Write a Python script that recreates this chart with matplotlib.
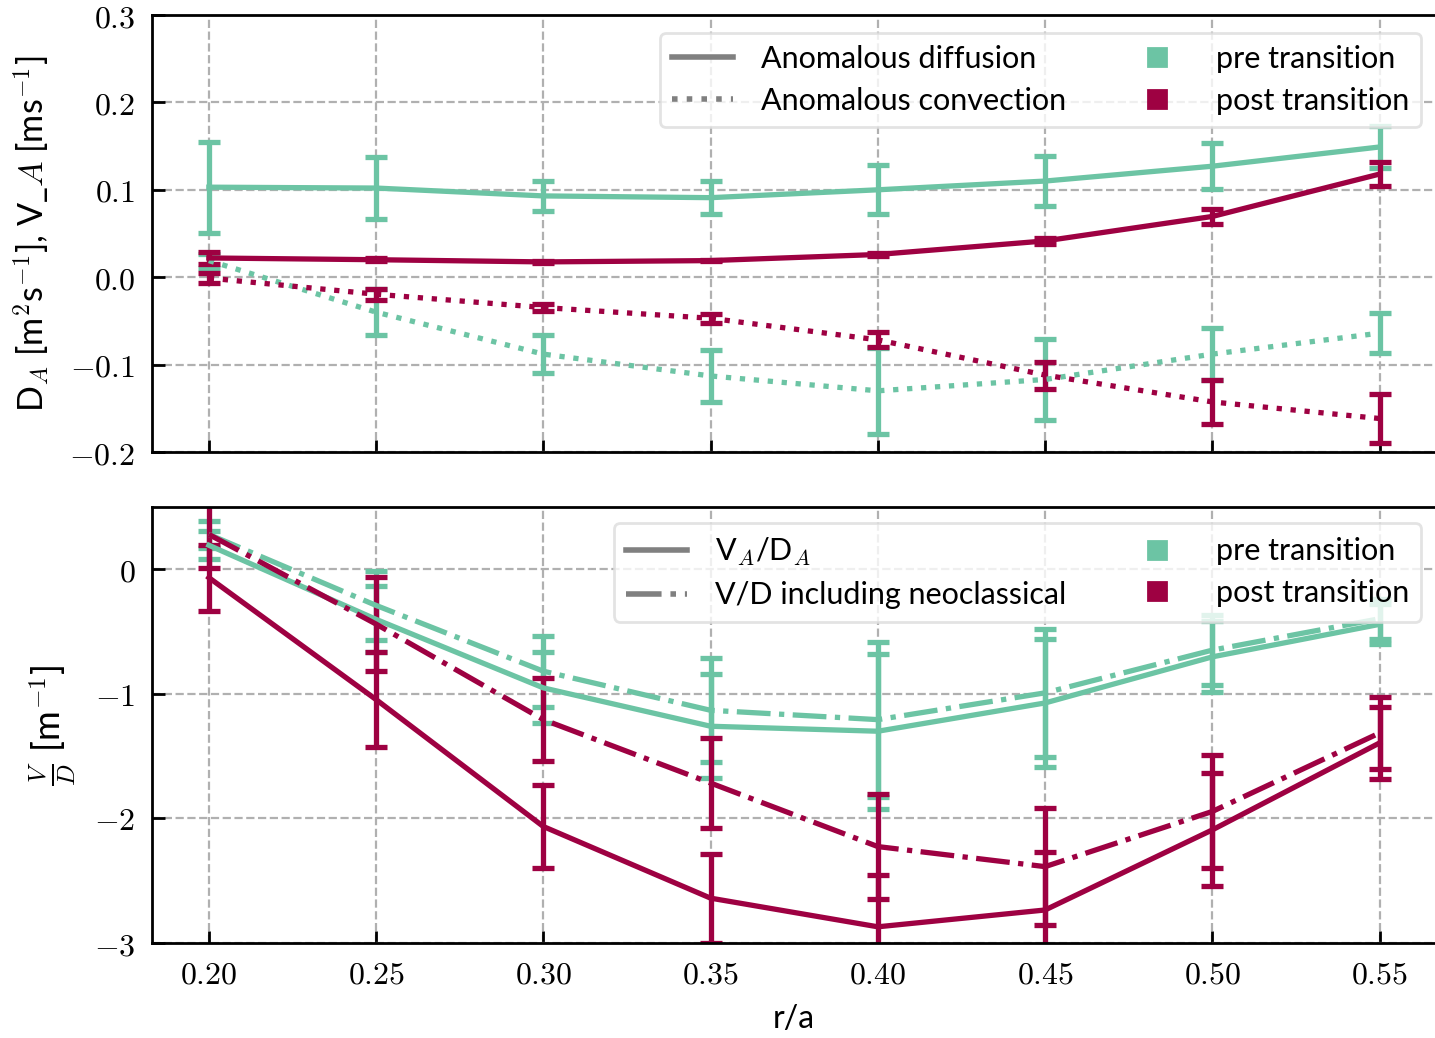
import matplotlib
matplotlib.use("Agg")
import matplotlib.pyplot as plt
from matplotlib.lines import Line2D
from matplotlib.ticker import FuncFormatter, MultipleLocator

plt.rcParams['font.family'] = ['Lato', 'DejaVu Sans']
plt.rcParams['mathtext.fontset'] = 'cm'
plt.rcParams['font.size'] = 10

# ---- data ----
r_a = [0.20, 0.25, 0.30, 0.35, 0.40, 0.45, 0.50, 0.55]

D_pre = [0.103, 0.102, 0.093, 0.091, 0.100, 0.110, 0.127, 0.149]
D_pre_err = [0.052, 0.035, 0.017, 0.019, 0.028, 0.029, 0.026, 0.024]
D_post = [0.022, 0.020, 0.0175, 0.019, 0.026, 0.0415, 0.0695, 0.118]
D_post_err = [0.007, 0.002, 0.001, 0.001, 0.002, 0.003, 0.0086, 0.0135]

V_pre = [0.019, -0.040, -0.088, -0.113, -0.130, -0.117, -0.088, -0.064]
V_pre_err = [0.008, 0.026, 0.0215, 0.030, 0.049, 0.046, 0.030, 0.023]
V_post = [-0.001, -0.0195, -0.0347, -0.047, -0.0717, -0.112, -0.1427, -0.1617]
V_post_err = [0.006, 0.0065, 0.004, 0.005, 0.0085, 0.0155, 0.025, 0.0275]

VD_pre = [0.193, -0.402, -0.952, -1.26, -1.30, -1.073, -0.703, -0.442]
VD_pre_err = [0.111, 0.265, 0.284, 0.417, 0.623, 0.516, 0.286, 0.161]
VD_post = [-0.067, -1.046, -2.065, -2.64, -2.87, -2.735, -2.092, -1.394]
VD_post_err = [0.264, 0.378, 0.335, 0.357, 0.416, 0.469, 0.453, 0.286]

VDn_pre = [0.28, -0.29, -0.818, -1.132, -1.207, -0.992, -0.649, -0.397]
VDn_pre_err = [0.107, 0.275, 0.284, 0.416, 0.623, 0.516, 0.282, 0.161]
VDn_post = [0.28, -0.44, -1.207, -1.716, -2.226, -2.387, -1.944, -1.314]
VDn_post_err = [0.268, 0.378, 0.333, 0.359, 0.42, 0.469, 0.453, 0.286]

c_pre = '#6cc4a4'
c_post = '#9e0142'

fig = plt.figure(figsize=(7.175, 5.19), dpi=200)
ax1 = fig.add_axes([152/1435, 1-452/1038, 1.001-152/1435, (452-15)/1038])
ax2 = fig.add_axes([152/1435, 1-943/1038, 1.001-152/1435, (943-507)/1038], sharex=ax1)

lw = 1.9
ekw = dict(capsize=3.8, capthick=lw, elinewidth=lw, lw=lw)

# top panel
ax1.errorbar(r_a, D_pre, yerr=D_pre_err, color=c_pre, ls='-', **ekw)
ax1.errorbar(r_a, V_pre, yerr=V_pre_err, color=c_pre, ls=':', **ekw)
ax1.errorbar(r_a, D_post, yerr=D_post_err, color=c_post, ls='-', **ekw)
ax1.errorbar(r_a, V_post, yerr=V_post_err, color=c_post, ls=':', **ekw)

# bottom panel
ax2.errorbar(r_a, VD_pre, yerr=VD_pre_err, color=c_pre, ls='-', **ekw)
ax2.errorbar(r_a, VDn_pre, yerr=VDn_pre_err, color=c_pre, ls='-.', **ekw)
ax2.errorbar(r_a, VD_post, yerr=VD_post_err, color=c_post, ls='-', **ekw)
ax2.errorbar(r_a, VDn_post, yerr=VDn_post_err, color=c_post, ls='-.', **ekw)

ax1.set_xlim(0.183, 0.567)
ax1.set_ylim(-0.2, 0.3)
ax2.set_ylim(-3, 0.5)
ax1.xaxis.set_major_locator(MultipleLocator(0.05))
ax1.yaxis.set_major_locator(MultipleLocator(0.1))
ax2.yaxis.set_major_locator(MultipleLocator(1))

fmt_x = FuncFormatter(lambda v, p: f"${v:.2f}$")
fmt_y1 = FuncFormatter(lambda v, p: f"${v:.1f}$" if abs(v) > 1e-9 else "$0.0$")
fmt_y2 = FuncFormatter(lambda v, p: f"${v:.0f}$" if abs(v) > 1e-9 else "$0$")
ax2.xaxis.set_major_formatter(fmt_x)
ax1.yaxis.set_major_formatter(fmt_y1)
ax2.yaxis.set_major_formatter(fmt_y2)
plt.setp(ax1.get_xticklabels(), visible=False)

for ax in (ax1, ax2):
    ax.grid(True, ls='--', color='#b0b0b0', lw=0.8)
    ax.set_axisbelow(True)
    ax.tick_params(direction='in', length=4.5, width=1.0, labelsize=11.5, pad=6)
    for s in ax.spines.values():
        s.set_linewidth(1.0)

ax1.set_ylabel(r"D$_A$ [m$^2$s$^{-1}$], V_$A$ [ms$^{-1}$]", fontsize=12.3)
ax2.set_ylabel(r"$\frac{V}{D}$ [m$^{-1}$]", fontsize=13)
ax2.set_xlabel("r/a", fontsize=11.5, labelpad=5)
ax1.yaxis.set_label_coords(-0.078, 0.5)
ax2.yaxis.set_label_coords(-0.058, 0.5)

grey = '#808080'
h1 = [Line2D([], [], color=grey, lw=2, ls='-'),
      Line2D([], [], color=grey, lw=2, ls=':'),
      Line2D([], [], color=c_pre, marker='s', ls='none', markersize=6.5),
      Line2D([], [], color=c_post, marker='s', ls='none', markersize=6.5)]
l1 = ["Anomalous diffusion", "Anomalous convection", "pre transition", "post transition"]
leg_kw = dict(ncol=2, loc='upper right', fontsize=11, handlelength=2.0,
              handletextpad=0.9, columnspacing=2.0, labelspacing=0.45,
              framealpha=0.8, edgecolor='#dddddd', borderaxespad=0.0)
ax1.legend(h1, l1, bbox_to_anchor=(0.988, 0.959), **leg_kw)

h2 = [Line2D([], [], color=grey, lw=2, ls='-'),
      Line2D([], [], color=grey, lw=2, ls='-.'),
      Line2D([], [], color=c_pre, marker='s', ls='none', markersize=6.5),
      Line2D([], [], color=c_post, marker='s', ls='none', markersize=6.5)]
l2 = [r"V$_A$/D$_A$", "V/D including neoclassical", "pre transition", "post transition"]
ax2.legend(h2, l2, bbox_to_anchor=(0.988, 0.963), **leg_kw)

fig.savefig("out.png", dpi=200)
